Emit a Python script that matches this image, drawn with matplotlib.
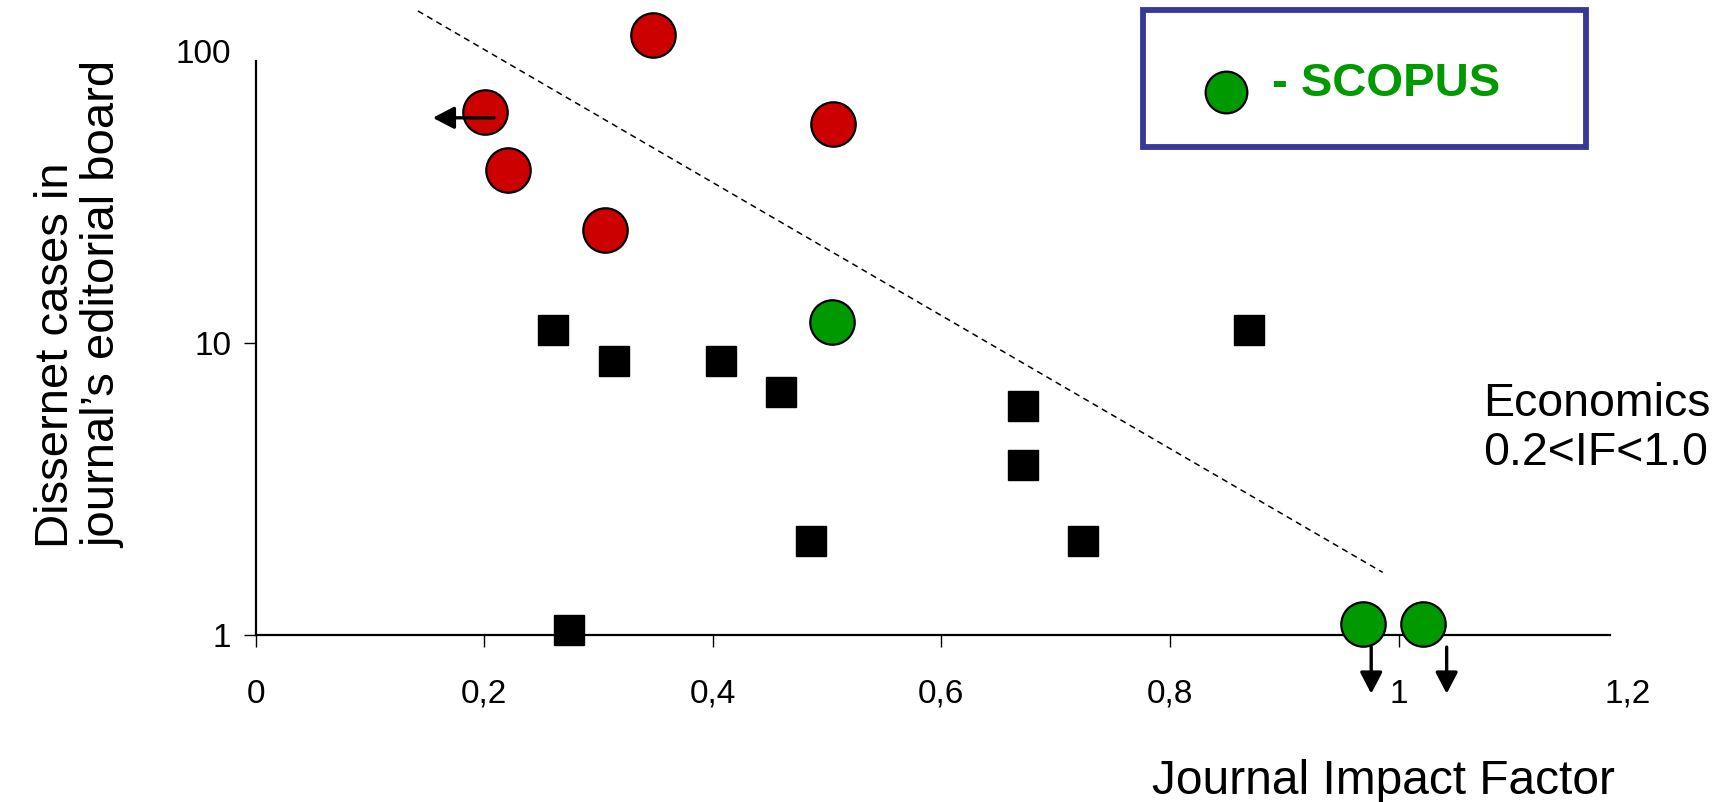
import numpy as np
import matplotlib
matplotlib.use("Agg")
import matplotlib.pyplot as plt
from matplotlib.patches import Rectangle
from matplotlib.lines import Line2D

plt.rcParams['font.family'] = ['Liberation Sans', 'DejaVu Sans']

# ---- data ----
red_x = [0.201, 0.348, 0.221, 0.505, 0.306]
red_y = [62.0, 113.0, 39.0, 56.0, 24.3]
green_x = [0.504, 0.969, 1.021]
green_y = [11.8, 1.09, 1.09]
sq_x = [0.260, 0.314, 0.407, 0.460, 0.486, 0.274, 0.671, 0.671, 0.724, 0.869]
sq_y = [11.1, 8.7, 8.7, 6.8, 2.1, 1.04, 6.1, 3.83, 2.1, 11.1]
trend_x = [0.142, 0.986]
trend_y = [137.0, 1.64]
left_arrow = ((0.2086, 59.0), (0.155, 59.0))
down_arrows_x = [0.976, 1.042]
down_arrow_y = (0.91, 0.63)
x_ticks = [0, 0.2, 0.4, 0.6, 0.8, 1.0, 1.2]
x_ticklabels = ["0", "0,2", "0,4", "0,6", "0,8", "1", "1,2"]
y_ticks = [1, 10, 100]
y_ticklabels = ["1", "10", "100"]

RED = "#CC0000"
GREEN = "#009900"
FRAME = "#383898"

fig = plt.figure(figsize=(17.35, 8.02), dpi=100)
ax = fig.add_axes([0.1473, 0.2081, 0.7906, 0.7817])
ax.set_yscale('log')
ax.set_xlim(0, 1.2)
ax.set_ylim(1, 140)

for s in ['top', 'right']:
    ax.spines[s].set_visible(False)
ax.spines['left'].set_bounds(1, 92.4)
ax.spines['bottom'].set_bounds(0, 1.185)
for s in ['left', 'bottom']:
    ax.spines[s].set_linewidth(1.6)
    ax.spines[s].set_color('black')

ax.set_xticks(x_ticks)
ax.set_xticklabels(x_ticklabels)
ax.set_yticks(y_ticks)
ax.set_yticklabels(y_ticklabels)
ax.yaxis.set_minor_locator(matplotlib.ticker.NullLocator())
ax.tick_params(axis='x', length=8.5, width=1.0, pad=23, labelsize=24)
ax.tick_params(axis='y', length=8.5, width=1.0, pad=9, labelsize=24)
ax.yaxis.get_major_ticks()[2].tick1line.set_visible(False)
ax.xaxis.get_major_ticks()[6].tick1line.set_visible(False)

# trend line
ax.plot(trend_x, trend_y, ls=(0, (4, 3)), color='black', lw=1.1, clip_on=False, zorder=2)

# markers
ax.plot(sq_x, sq_y, ls='none', marker='s', ms=22, mfc='black', mec='black',
        clip_on=False, zorder=4)
ax.plot(red_x, red_y, ls='none', marker='o', ms=32, mfc=RED, mec='black', mew=1.6,
        clip_on=False, zorder=4)
ax.plot(green_x, green_y, ls='none', marker='o', ms=32, mfc=GREEN, mec='black', mew=1.6,
        clip_on=False, zorder=4)

# arrows
ap = dict(arrowstyle='-|>,head_length=0.5,head_width=0.26', color='black', lw=2.4,
          shrinkA=0, shrinkB=0, mutation_scale=26)
ax.annotate('', xy=left_arrow[1], xytext=left_arrow[0], arrowprops=ap,
            annotation_clip=False, zorder=5)
for xa in down_arrows_x:
    ax.annotate('', xy=(xa, down_arrow_y[1]), xytext=(xa, down_arrow_y[0]),
                arrowprops=ap, annotation_clip=False, zorder=5)

# labels
fig.text(0.931, 0.025, "Journal Impact Factor", ha='right', va='center', fontsize=34.5)
fig.text(0.046, 0.317, "Dissernet cases in\njournal\u2019s editorial board",
         rotation=90, ha='center', va='bottom', multialignment='left',
         fontsize=34, linespacing=1.08)
fig.text(0.855, 0.466, "Economics\n0.2<IF<1.0", ha='left', va='center',
         fontsize=33.5, linespacing=1.15)

# legend box
fig.patches.append(Rectangle((0.659, 0.817), 0.255, 0.170, transform=fig.transFigure,
                             fill=False, edgecolor=FRAME, lw=4.2))
fig.add_artist(Line2D([0.7066], [0.885], transform=fig.transFigure, ls='none',
                      marker='o', ms=30, mfc=GREEN, mec='black', mew=1.6))
fig.text(0.733, 0.895, "- SCOPUS", ha='left', va='center', fontsize=34,
         fontweight='bold', color=GREEN)

fig.savefig("out.png", dpi=100)
